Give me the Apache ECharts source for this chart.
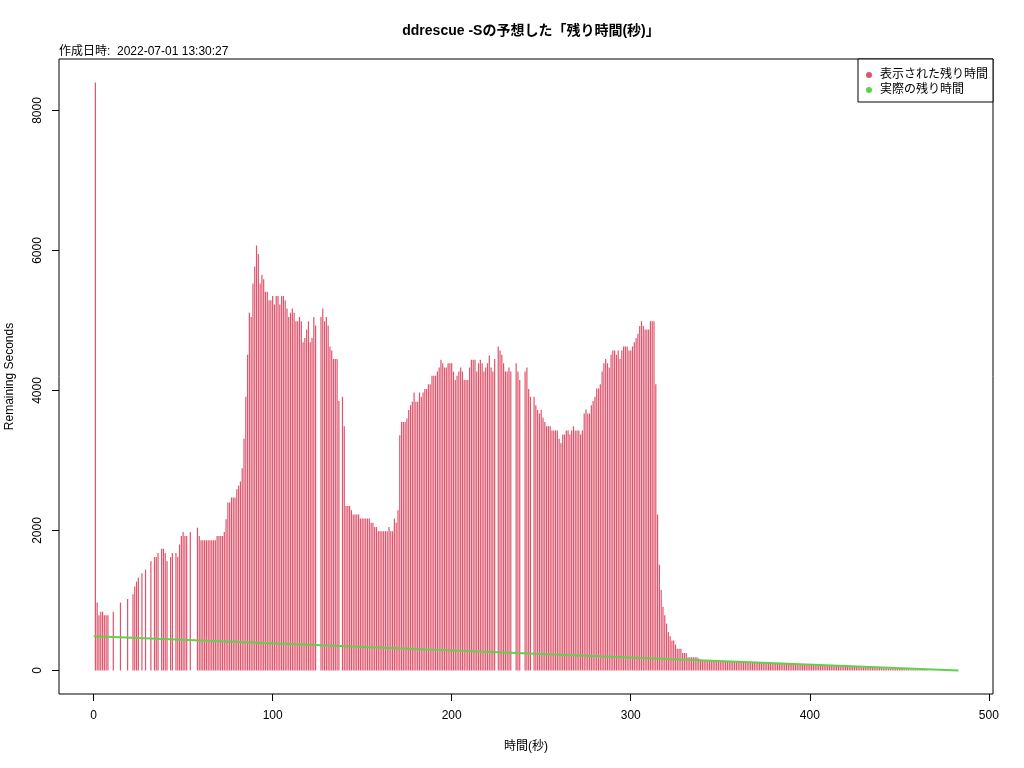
<!DOCTYPE html>
<html>
<head>
<meta charset="utf-8">
<script src="https://cdn.jsdelivr.net/npm/echarts@6/dist/echarts.min.js"></script>
<style>
html,body{margin:0;padding:0;background:#fff;}
#chart{width:1024px;height:768px;}
</style>
</head>
<body>
<div id="chart"></div>
<script>
// ---- data ----
const titleText = "ddrescue -Sの予想した「残り時間(秒)」";
const subtitleText = "作成日時:  2022-07-01 13:30:27";
const xTitle = "時間(秒)";
const yTitle = "Remaining Seconds";
const legendNames = ["表示された残り時間", "実際の残り時間"];
const xTicks = [0, 100, 200, 300, 400, 500];
const yTicks = [0, 2000, 4000, 6000, 8000];
const firstSecond = 0;
// shown remaining seconds, one entry per second (null = no report)
const shownRemaining = [
  null,8400,970,790,840,840,790,790,790,null,
  null,840,null,null,null,970,null,null,null,1020,
  null,null,1090,1200,1270,1330,null,1390,null,1440,
  null,null,1560,null,1620,1620,1680,null,1740,1740,
  1680,1560,null,1620,1680,null,1680,1620,1800,1920,
  1980,1920,1920,null,1980,null,null,null,2040,1920,
  1860,1860,1860,1860,1860,1860,1860,1860,1860,1920,
  1920,1920,1920,1980,2160,2400,2400,2470,2470,2470,
  2590,2640,2700,2890,3310,3910,4510,5110,5050,5530,
  5770,6070,5950,5530,5650,5590,5410,5410,5290,5290,
  5350,5230,5350,5350,5230,5350,5350,5290,5170,5050,
  5110,5170,5110,4990,4990,5050,4990,4690,4750,4870,
  4990,4690,4750,5050,4930,null,null,5050,5170,4990,
  5050,4930,4630,4570,4450,4450,4450,3850,null,3910,
  3490,2350,2350,2350,2290,2230,2230,2230,2230,2170,
  2170,2170,2170,2170,2170,2110,2110,2050,2050,1990,
  1990,1990,1990,1990,1990,2050,1990,1990,2170,2110,
  2290,3360,3550,3550,3550,3600,3720,3790,3840,3970,
  3840,3840,3970,3910,3970,4020,4020,4090,4090,4210,
  4210,4210,4270,4330,4440,4390,4330,4330,4390,4390,
  4390,4270,4150,4210,4270,4330,4270,4150,4150,4150,
  4330,4440,4440,4440,4270,4390,4440,4390,4270,4330,
  4390,4500,4330,4270,4450,null,4630,4570,4510,4390,
  4270,4270,4330,4270,null,null,4390,4270,4150,null,
  null,4270,4330,4020,3910,null,3910,3790,3720,3670,
  3720,3610,3550,3490,3490,3490,3430,3430,3430,3430,
  3310,3250,3370,3370,3430,3430,3370,3430,3490,3430,
  3430,3430,3370,3430,3670,3730,3670,3670,3790,3850,
  3910,4030,4030,4090,4270,4390,4450,4390,4330,4510,
  4570,4570,4510,4570,4450,4570,4630,4630,4630,4570,
  4570,4630,4690,4750,4810,4920,4990,4920,4870,4870,
  4870,4990,4990,4990,4090,2230,1510,1150,910,790,
  670,550,490,430,430,370,310,310,310,250,
  250,250,190,190,190,190,190,190,170,152,
  151,150,148,147,146,145,144,143,142,141,
  140,138,137,136,135,134,133,132,131,130,
  128,127,126,125,124,122,121,120,119,118,
  117,115,114,113,112,111,110,108,107,106,
  105,104,102,101,100,99,98,97,95,94,
  93,92,91,90,88,87,86,85,84,83,
  82,80,79,78,77,76,74,73,72,71,
  70,68,67,66,65,64,63,61,60,59,
  58,57,55,54,53,52,51,50,48,47,
  46,45,44,42,41,40,39,38,37,35,
  34,33,32,31,29,28,27,26,25,24,
  22,21,20,19,18,16,15,14,13,12,
  11,10,9,8,7,6,5
];
// actual remaining seconds (straight line from start to finish)
const actualX = [0, 483];
const actualY = [490, 0];

// ---- build ----
const barData = [];
shownRemaining.forEach((v, i) => { if (v !== null) barData.push([firstSecond + i, v]); });
const lineData = actualX.map((x, i) => [x, actualY[i]]);

const FONT = "'Liberation Sans', Arimo, 'Noto Sans CJK JP', sans-serif";
const chart = echarts.init(document.getElementById('chart'), null, {renderer: 'canvas'});
chart.setOption({
  backgroundColor: '#ffffff',
  animation: false,
  textStyle: {fontFamily: FONT, color: '#000'},
  title: {
    text: titleText,
    left: 526, top: 19,
    textAlign: 'center',
    textStyle: {fontFamily: FONT, fontSize: 14, fontWeight: 'bold', color: '#000'}
  },
  grid: {
    left: 59, top: 59, right: 31, bottom: 74,
    containLabel: false,
    outerBoundsMode: 'none',
    show: true, borderColor: '#000', borderWidth: 1, backgroundColor: 'transparent'
  },
  legend: {
    right: 31, top: 59,
    orient: 'vertical',
    padding: [10, 5, 6, 8],
    itemGap: 3,
    itemWidth: 6, itemHeight: 6,
    icon: 'circle',
    borderColor: '#000', borderWidth: 1, borderRadius: 0,
    backgroundColor: '#fff',
    textStyle: {fontFamily: FONT, fontSize: 12, color: '#000', padding: [0, 0, 0, 3]},
    data: legendNames
  },
  xAxis: {
    type: 'value',
    min: -19.32, max: 502.32,
    splitLine: {show: false},
    axisLine: {show: false, onZero: false},
    axisTick: {show: true, length: 7, inside: false, customValues: xTicks, lineStyle: {color: '#000'}},
    axisLabel: {customValues: xTicks, margin: 16, fontSize: 12, color: '#000', fontFamily: FONT,
      formatter: v => String(v)},
    name: xTitle, nameLocation: 'middle', nameGap: 47,
    nameTextStyle: {fontSize: 12, color: '#000', fontFamily: FONT}
  },
  yAxis: {
    type: 'value',
    min: -336, max: 8736,
    splitLine: {show: false},
    axisLine: {show: false, onZero: false},
    axisTick: {show: true, length: 7, inside: false, customValues: yTicks, lineStyle: {color: '#000'}},
    axisLabel: {customValues: yTicks, margin: 15, rotate: 90, fontSize: 12, color: '#000', fontFamily: FONT,
      formatter: v => String(v)},
    name: yTitle, nameLocation: 'middle', nameGap: 43, nameRotate: 90,
    nameTextStyle: {fontSize: 12, color: '#000', fontFamily: FONT}
  },
  graphic: [{
    type: 'text', left: 59, top: 46,
    style: {text: subtitleText, font: '12px ' + FONT, fill: '#000'}
  }],
  series: [
    {
      name: legendNames[0],
      type: 'bar',
      data: barData,
      barWidth: 1.2,
      itemStyle: {color: '#DF536B'},
      silent: true
    },
    {
      name: legendNames[1],
      type: 'line',
      data: lineData,
      symbol: 'none',
      lineStyle: {color: '#61D04F', width: 2},
      itemStyle: {color: '#61D04F'},
      silent: true
    }
  ]
});
</script>
</body>
</html>
